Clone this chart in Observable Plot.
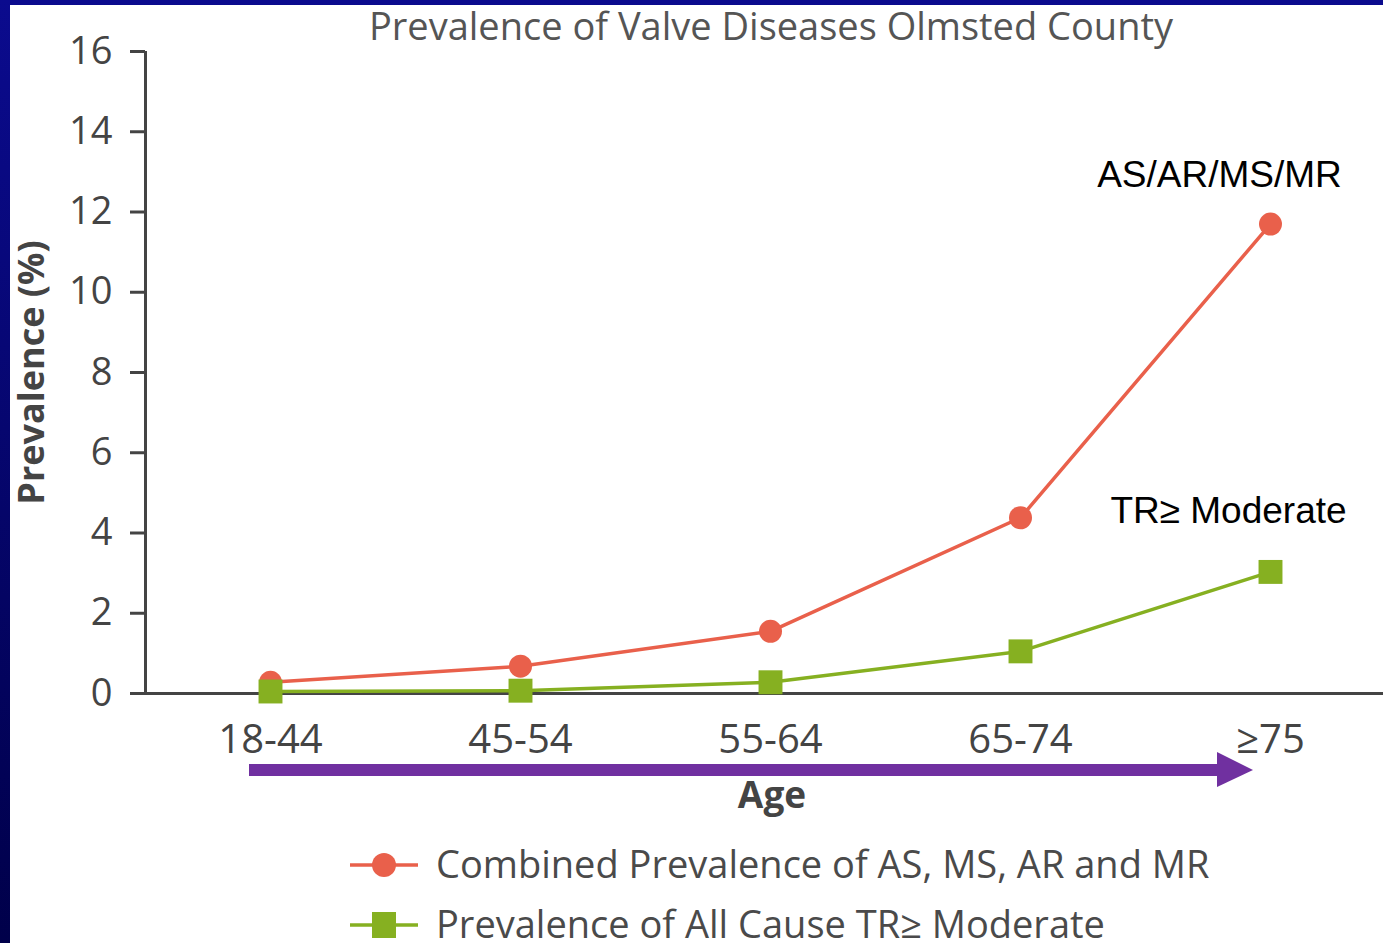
<!DOCTYPE html>
<html><head><meta charset="utf-8">
<script src="https://cdn.jsdelivr.net/npm/d3@7"></script>
<script src="https://cdn.jsdelivr.net/npm/@observablehq/plot@0.6"></script>
<style>
html,body{margin:0;padding:0;width:1383px;height:943px;overflow:hidden;background:linear-gradient(#0b0b8e,#00004a);}
#paper{position:absolute;left:10px;top:5px;right:0;bottom:0;background:#fff;}
#chart{position:absolute;left:0;top:0;}
.txt{position:absolute;font-family:"Open Sans",sans-serif;color:#4a4a4a;white-space:nowrap;}
#title{left:771px;top:0px;transform:translateX(-50%);font-size:38px;line-height:50px;color:#555;}
#age{left:772px;top:770px;transform:translateX(-50%);font-size:37px;font-weight:bold;line-height:48px;color:#444;}
#legend{position:absolute;left:0;top:0;}
</style></head>
<body>
<div id="paper"></div>
<div id="chart"></div>
<div id="title" class="txt"></div>
<div id="age" class="txt"></div>
<svg id="legend" width="1383" height="943"></svg>
<script>
const ages = ["18-44", "45-54", "55-64", "65-74", "≥75"];
const combined = [0.28, 0.68, 1.55, 4.38, 11.7];
const trModerate = [0.05, 0.07, 0.28, 1.05, 3.03];
const yTicks = [0, 2, 4, 6, 8, 10, 12, 14, 16];
const seriesNames = ["Combined Prevalence of AS, MS, AR and MR", "Prevalence of All Cause TR≥ Moderate"];
const annotations = ["AS/AR/MS/MR", "TR≥ Moderate"];
const titleText = "Prevalence of Valve Diseases Olmsted County";
const yLabel = "Prevalence (%)";
const xLabel = "Age";

const red = "#e9604b";
const green = "#86b021";
const purple = "#7030a0";
const idx = ages.map((_, i) => i);

document.getElementById("title").textContent = titleText;
document.getElementById("age").textContent = xLabel;

const plot = Plot.plot({
  width: 1383,
  height: 760,
  marginLeft: 145,
  marginRight: 0,
  marginTop: 51,
  marginBottom: 67,
  style: {background: "transparent", fontFamily: "Open Sans", overflow: "visible"},
  x: {type: "linear", domain: [-0.5, 4.452]},
  y: {domain: [0, 16]},
  marks: [
    Plot.axisY({ticks: yTicks, tickSize: 15, tickPadding: 18, fontSize: 38, color: "#444", strokeWidth: 3, label: null}),
    Plot.axisX({ticks: idx, tickFormat: i => ages[i], tickSize: 0, tickPadding: 31, fontSize: 40, color: "#444", label: null}),
    Plot.ruleY([0], {stroke: "#444", strokeWidth: 3}),
    Plot.ruleX([-0.5], {stroke: "#444", strokeWidth: 3}),
    Plot.text([yLabel], {frameAnchor: "left", textAnchor: "middle", rotate: -90, dx: -113, fontSize: 36, fontWeight: "bold", fill: "#444"}),
    Plot.line(idx, {x: i => i, y: i => combined[i], stroke: red, strokeWidth: 3.5}),
    Plot.dot(idx, {x: i => i, y: i => combined[i], r: 11.5, fill: red, stroke: null}),
    Plot.line(idx, {x: i => i, y: i => trModerate[i], stroke: green, strokeWidth: 3.5}),
    Plot.dot(idx, {x: i => i, y: i => trModerate[i], symbol: "square", r: 13.5, fill: green, stroke: null}),
    Plot.text([annotations[0]], {x: () => 4, y: () => combined[4], dx: -51, dy: -49, fontSize: 37, fontFamily: "Liberation Sans", fill: "#000"}),
    Plot.text([annotations[1]], {x: () => 4, y: () => trModerate[4], dx: -42, dy: -61, fontSize: 37, fontFamily: "Liberation Sans", fill: "#000"})
  ]
});
document.getElementById("chart").appendChild(plot);

// Arrow under the x axis and legend (drawn with d3 in plain SVG)
const svg = d3.select("#legend");
svg.append("rect").attr("x", 249).attr("y", 764).attr("width", 970).attr("height", 12).attr("fill", purple);
svg.append("path").attr("d", "M1217,752 L1253,770 L1217,787 Z").attr("fill", purple);

const legendItems = [
  {name: seriesNames[0], color: red, symbol: "circle", y: 865},
  {name: seriesNames[1], color: green, symbol: "square", y: 925}
];
legendItems.forEach(d => {
  svg.append("line").attr("x1", 350).attr("x2", 418).attr("y1", d.y).attr("y2", d.y).attr("stroke", d.color).attr("stroke-width", 3.5);
  if (d.symbol === "circle") svg.append("circle").attr("cx", 384).attr("cy", d.y).attr("r", 12).attr("fill", d.color);
  else svg.append("rect").attr("x", 372).attr("y", d.y - 13).attr("width", 24).attr("height", 26).attr("fill", d.color);
  svg.append("text").attr("x", 436).attr("y", d.y).attr("dy", "0.35em").attr("font-family", "Open Sans").attr("font-size", 38).attr("fill", "#4a4a4a").text(d.name);
});
</script>
</body></html>
